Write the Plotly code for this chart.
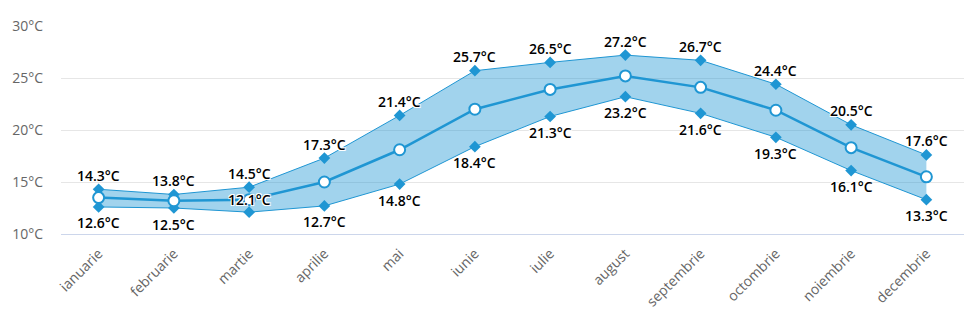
import plotly.graph_objects as go

# Monthly temperature data (°C)
months = ["ianuarie", "februarie", "martie", "aprilie", "mai", "iunie",
          "iulie", "august", "septembrie", "octombrie", "noiembrie", "decembrie"]
temp_max = [14.3, 13.8, 14.5, 17.3, 21.4, 25.7, 26.5, 27.2, 26.7, 24.4, 20.5, 17.6]
temp_min = [12.6, 12.5, 12.1, 12.7, 14.8, 18.4, 21.3, 23.2, 21.6, 19.3, 16.1, 13.3]
temp_avg = [13.5, 13.2, 13.3, 15.0, 18.1, 22.0, 23.9, 25.2, 24.1, 21.9, 18.3, 15.5]
y_ticks = [10, 15, 20, 25, 30]

LINE = "#1f96d3"
FILL = "rgba(31,150,211,0.42)"
LABEL_FONT = dict(family="Open Sans", size=14, color="#000000", weight=600,
                  shadow="1px 1px 0 #fff, -1px -1px 0 #fff, 1px -1px 0 #fff, -1px 1px 0 #fff")

fmt = lambda v: f"{v:.1f}°C"

fig = go.Figure()

# range band: low edge, then high edge filled down to it
fig.add_trace(go.Scatter(
    x=months, y=temp_min, mode="lines+markers",
    line=dict(color=LINE, width=1),
    marker=dict(symbol="diamond", size=9, color=LINE),
    hoverinfo="skip", showlegend=False))
fig.add_trace(go.Scatter(
    x=months, y=temp_max, mode="lines+markers", fill="tonexty", fillcolor=FILL,
    line=dict(color=LINE, width=1),
    marker=dict(symbol="diamond", size=9, color=LINE),
    hoverinfo="skip", showlegend=False))

# average line
fig.add_trace(go.Scatter(
    x=months, y=temp_avg, mode="lines+markers",
    line=dict(color=LINE, width=2.5),
    marker=dict(symbol="circle", size=11, color="#ffffff", line=dict(color=LINE, width=2)),
    showlegend=False))

# value labels: maxima above, minima below (March minimum lifted above its marker)
for m, v in zip(months, temp_max):
    fig.add_annotation(x=m, y=v, text=fmt(v), showarrow=False, yshift=14,
                       font=LABEL_FONT)
for i, (m, v) in enumerate(zip(months, temp_min)):
    fig.add_annotation(x=m, y=v, text=fmt(v), showarrow=False,
                       yshift=13 if i == 2 else -16, font=LABEL_FONT)

fig.update_layout(
    width=967, height=327,
    margin=dict(l=61, r=3, t=26, b=93),
    paper_bgcolor="#ffffff", plot_bgcolor="#ffffff",
    font=dict(family="Open Sans", color="#666666"),
)
fig.update_xaxes(
    type="category", tickangle=-45, showgrid=False,
    showline=True, linecolor="#ccd6eb", linewidth=1,
    tickfont=dict(size=14, color="#666666"), ticks="", ticklabelstandoff=5,
    range=[-0.5, len(months) - 0.5])
fig.update_yaxes(
    range=[10, 30], tickvals=y_ticks, ticktext=[f"{v}°C" for v in y_ticks],
    showgrid=True, gridcolor="#e6e6e6", gridwidth=1, zeroline=False,
    tickfont=dict(size=14, color="#666666"), ticklabelstandoff=17)

fig.write_html("out.html")
